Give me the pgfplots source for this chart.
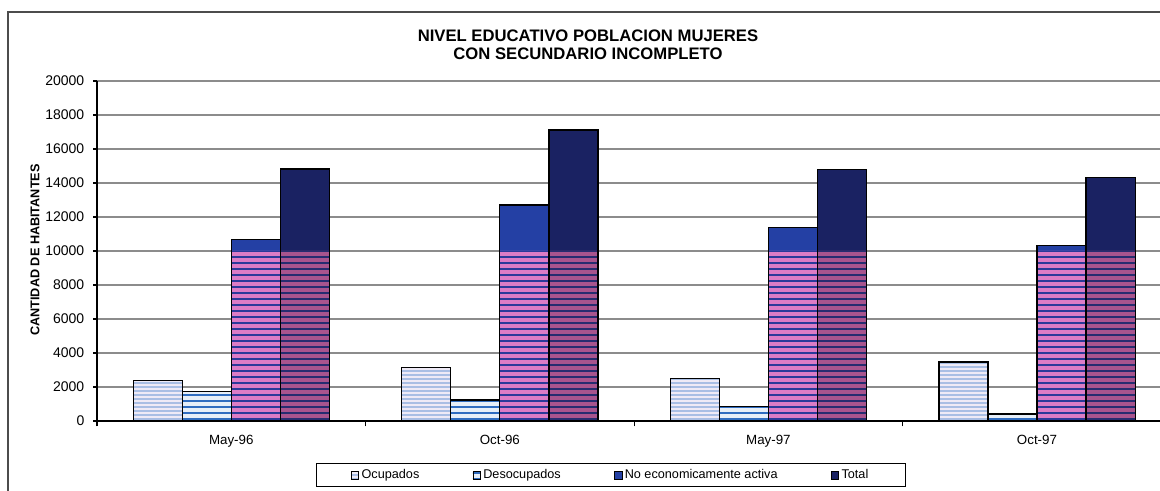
\documentclass[border=0pt]{standalone}
\usepackage{pgfplots}
\pgfplotsset{compat=1.18}
\usepackage{fontspec}
\setmainfont{Liberation Sans}
\usetikzlibrary{patterns.meta}
\definecolor{ocfill}{HTML}{EEEAF6}
\definecolor{ocstripe}{HTML}{A9BEE4}
\definecolor{defill}{HTML}{E6EEF8}
\definecolor{destripe}{HTML}{2F6CC0}
\definecolor{neapink}{HTML}{DC7CC6}
\definecolor{neastripe}{HTML}{2B3A9A}
\definecolor{neatop}{HTML}{2440A4}
\definecolor{totpink}{HTML}{A8548E}
\definecolor{totstripe}{HTML}{262C70}
\definecolor{tottop}{HTML}{1A2262}
\begin{document}
\begin{tikzpicture}
\useasboundingbox (0,0) rectangle (870pt,368.25pt);
\draw[black!70, line width=0.8pt] (6pt,0) -- (6pt,359.25pt) -- (870pt,359.25pt);
\node[font=\bfseries\fontsize{12.5}{13.5}\selectfont, align=center] at (441pt,334.5pt) {NIVEL EDUCATIVO POBLACION MUJERES\\CON SECUNDARIO INCOMPLETO};
\node[font=\bfseries\fontsize{9.5}{11}\selectfont, rotate=90] at (26.25pt,180.75pt) {CANTIDAD DE HABITANTES};
\begin{axis}[
  at={(72.75pt,52.5pt)}, anchor=south west, scale only axis,
  width=797.25pt, height=255pt,
  ybar, bar width=0.1825,
  xmin=-0.5, xmax=3.458, ymin=0, ymax=20000,
  xtick={0,1,2,3}, xticklabels={May-96,Oct-96,May-97,Oct-97},
  minor xtick={-0.5,0.5,1.5,2.5},
  ytick={0,2000,...,20000},
  scaled y ticks=false,
  axis lines=left, axis line style={-, line width=0.8pt},
  ymajorgrids, major grid style={black!45, line width=0.9pt},
  tick align=outside, major tick length=3pt, minor tick length=4pt,
  major x tick style={draw=none},
  minor x tick style={draw=black, line width=0.8pt},
  major y tick style={draw=black, line width=0.8pt},
  yticklabel style={font=\fontsize{10.5}{11}\selectfont, xshift=-3pt},
  xticklabel style={font=\fontsize{10}{11}\selectfont, yshift=-4pt},
  /pgf/number format/1000 sep={},
  /pgf/number format/assume math mode=true,
  legend style={at={(0.4835,-0.159)}, anchor=center, legend columns=4, draw=black, line width=0.6pt,
    font=\fontsize{9.5}{10}\selectfont, inner xsep=26pt, inner ysep=2.5pt,
    /tikz/every even column/.append style={column sep=38pt}},
  legend image code/.code={\draw[#1, line width=0.4pt] (0pt,-2.8pt) rectangle (5.6pt,2.8pt);},
]
% Ocupados
\addplot[bar shift=-0.274, fill=ocfill, draw=black, line width=0.9pt,
  postaction={pattern={Lines[angle=0,distance=3pt,line width=1pt]}, pattern color=ocstripe}]
  coordinates {(0,2370) (1,3160) (2,2490) (3,3470)};
\addlegendentry{Ocupados}
% Desocupados
\addplot[bar shift=-0.0913, fill=defill, draw=black, line width=0.9pt,
  postaction={pattern={Lines[angle=0,distance=4.5pt,line width=2.2pt]}, pattern color=destripe}]
  coordinates {(0,1720) (1,1235) (2,840) (3,410)};
\addlegendentry{Desocupados}
% No economicamente activa
\addplot[bar shift=0.0913, fill=neatop, draw=black, line width=0.9pt]
  coordinates {(0,10690) (1,12700) (2,11390) (3,10330)};
\addlegendentry{No economicamente activa}
\addplot[forget plot, bar shift=0.0913, fill=neapink, draw=none, restrict y to domain*=0:10000,
  postaction={pattern={Lines[angle=0,distance=4.5pt,line width=2pt]}, pattern color=neastripe}]
  coordinates {(0,10690) (1,12700) (2,11390) (3,10330)};
\addplot[forget plot, bar shift=0.0913, fill=none, draw=black, line width=0.9pt]
  coordinates {(0,10690) (1,12700) (2,11390) (3,10330)};
% Total
\addplot[bar shift=0.274, fill=tottop, draw=black, line width=0.9pt]
  coordinates {(0,14820) (1,17120) (2,14800) (3,14330)};
\addlegendentry{Total}
\addplot[forget plot, bar shift=0.274, fill=totpink, draw=none, restrict y to domain*=0:10000,
  postaction={pattern={Lines[angle=0,distance=4.5pt,line width=2pt]}, pattern color=totstripe}]
  coordinates {(0,14820) (1,17120) (2,14800) (3,14330)};
\addplot[forget plot, bar shift=0.274, fill=none, draw=black, line width=0.9pt]
  coordinates {(0,14820) (1,17120) (2,14800) (3,14330)};
\end{axis}
\end{tikzpicture}
\end{document}
